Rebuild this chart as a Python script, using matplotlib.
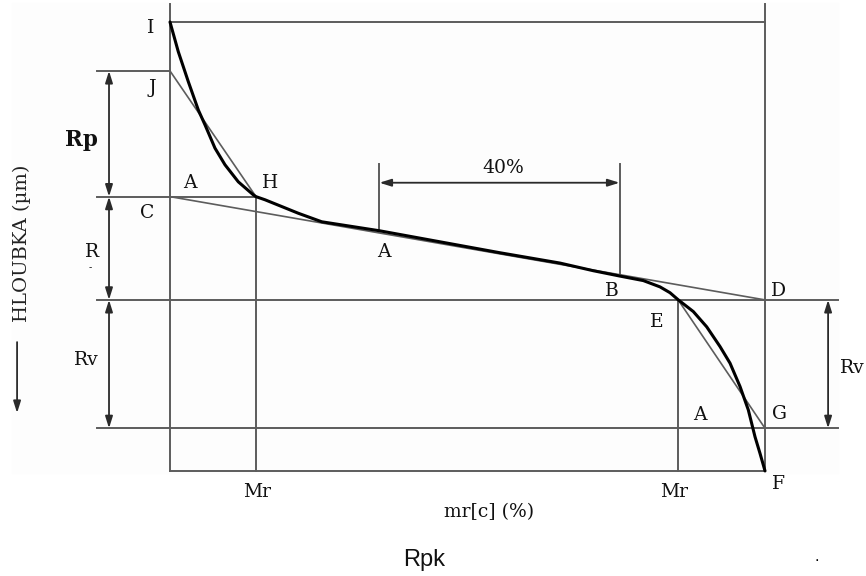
import matplotlib
matplotlib.use("Agg")
import matplotlib.pyplot as plt
from matplotlib.patches import Rectangle

# material ratio (%) of the key points
mr_left = 0.0
mr_right = 100.0
mr_H = 14.45
mr_A = 35.2
mr_B = 75.55
mr_E = 85.4

# depth levels (arbitrary units, 0 = highest peak)
d_I = 0.0
d_J = 1.09
d_C = 3.89
d_D = 6.19
d_G = 9.05
d_F = 10.0

# bearing area curve
curve_mr = [0, 1.39, 3.08, 4.76, 5.88, 7.56, 9.24, 11.48, 14.0, 14.45, 15.97, 18.77,
            21.56, 25.5, 35.2, 55.46, 65.55, 71.14, 75.63, 79.55, 82.35, 84.03,
            85.43, 87.95, 90.2, 92.44, 94.12, 95.8, 97.19, 98.32, 99.16, 100]
curve_d = [0, 0.66, 1.33, 1.96, 2.29, 2.81, 3.18, 3.56, 3.85, 3.89, 3.96, 4.11,
           4.26, 4.45, 4.65, 5.14, 5.37, 5.54, 5.66, 5.76, 5.90, 6.03,
           6.19, 6.45, 6.79, 7.23, 7.60, 8.12, 8.64, 9.24, 9.61, 10.0]

d_curve_A = 4.65
d_curve_B = 5.65

lc = '#5c5c5c'
ac = '#2a2a2a'
lw = 1.4
serif = 'DejaVu Serif'
fs = 13.5

fig = plt.figure(figsize=(8.66, 5.76), dpi=100)
ax = fig.add_axes([0, 0, 1, 1])
ax.set_xlim(-28.57, 116.97)
ax.set_ylim(12.34, -0.49)
ax.axis('off')

ax.add_patch(Rectangle((12 / 866, 1 - 473 / 576), 826 / 866, 470 / 576,
                       transform=ax.transAxes, color='#fdfdfd', zorder=0))

# frame and level lines
ext_l = -12.27
ext_r = 112.27
ax.plot([mr_left, mr_right], [d_I, d_I], color=lc, lw=lw)
ax.plot([ext_l, mr_left], [d_J, d_J], color=lc, lw=lw)
ax.plot([ext_l, mr_H], [d_C, d_C], color=lc, lw=lw)
ax.plot([ext_l, ext_r], [d_D, d_D], color=lc, lw=lw)
ax.plot([ext_l, ext_r], [d_G, d_G], color=lc, lw=lw)
ax.plot([mr_left, mr_right], [d_F, d_F], color=lc, lw=lw)
ax.plot([mr_left, mr_left], [-0.4, d_F], color=lc, lw=lw)
ax.plot([mr_right, mr_right], [-0.4, d_F], color=lc, lw=lw)
ax.plot([mr_H, mr_H], [d_C, d_F], color=lc, lw=lw)
ax.plot([mr_E, mr_E], [d_D, d_F], color=lc, lw=lw)
ax.plot([mr_A, mr_A], [3.16, d_curve_A], color=lc, lw=lw)
ax.plot([mr_B, mr_B], [3.16, d_curve_B], color=lc, lw=lw)

# equivalent straight lines
ax.plot([mr_left, mr_H], [d_J, d_C], color=lc, lw=1.2)
ax.plot([mr_left, mr_right], [d_C, d_D], color=lc, lw=1.2)
ax.plot([mr_E, mr_right], [d_D, d_G], color=lc, lw=1.2)

# the curve
ax.plot(curve_mr, curve_d, color='black', lw=2.2, solid_capstyle='round',
        solid_joinstyle='round', zorder=5)

# dimension arrows
arr = dict(arrowstyle='<|-|>,head_length=0.7,head_width=0.22', color=ac, lw=1.3,
           shrinkA=0, shrinkB=0)
x_dim = -10.25
ax.annotate('', xy=(x_dim, d_J), xytext=(x_dim, d_C), arrowprops=arr)
ax.annotate('', xy=(x_dim, d_C), xytext=(x_dim, d_D), arrowprops=arr)
ax.annotate('', xy=(x_dim, d_D), xytext=(x_dim, d_G), arrowprops=arr)
ax.annotate('', xy=(110.6, d_D), xytext=(110.6, d_G), arrowprops=arr)
ax.annotate('', xy=(mr_A, 3.58), xytext=(mr_B, 3.58), arrowprops=arr)
ax.annotate('', xy=(-25.7, 8.71), xytext=(-25.7, 7.13),
            arrowprops=dict(arrowstyle='-|>,head_length=0.7,head_width=0.22',
                            color=ac, lw=1.3, shrinkA=0, shrinkB=0))

# labels
labels = [
    ('I', -3.19, 0.245), ('J', -3.03, 1.58), ('A', 3.36, 3.70), ('H', 16.8, 3.70),
    ('C', -3.87, 4.37), ('R', -13.1, 5.23), ('A', 35.9, 5.23), ('40%', 55.97, 3.36),
    ('B', 74.3, 6.10), ('D', 102.35, 6.10), ('E', 81.85, 6.79), ('Rv', -14.0, 7.64),
    ('Rv', 114.6, 7.82), ('A', 89.1, 8.86), ('G', 102.35, 8.84), ('F', 102.2, 10.40),
    ('Mr', 14.6, 10.58), ('Mr', 84.7, 10.58), ('mr[c] (%)', 53.6, 11.02),
]
for s, x, y in labels:
    ax.text(x, y, s, family=serif, fontsize=fs, ha='center', va='baseline', color='#111111')

ax.text(-13.4, 5.52, '-', family=serif, fontsize=7, ha='center', va='baseline')
ax.text(-14.96, 2.76, 'Rp', family=serif, fontsize=15.5, fontweight='bold',
        ha='center', va='baseline', color='#111111')
ax.text(-24.87, 4.94, 'HLOUBKA (µm)', family=serif, fontsize=14, rotation=90,
        ha='center', va='center', color='#222222')
ax.text(42.7, 12.12, 'Rpk', family='Liberation Sans', fontsize=17,
        ha='center', va='baseline', color='#111111')
ax.text(108.7, 12.0, '.', family='Liberation Sans', fontsize=12,
        ha='center', va='baseline')

fig.savefig('out.png', dpi=100)
